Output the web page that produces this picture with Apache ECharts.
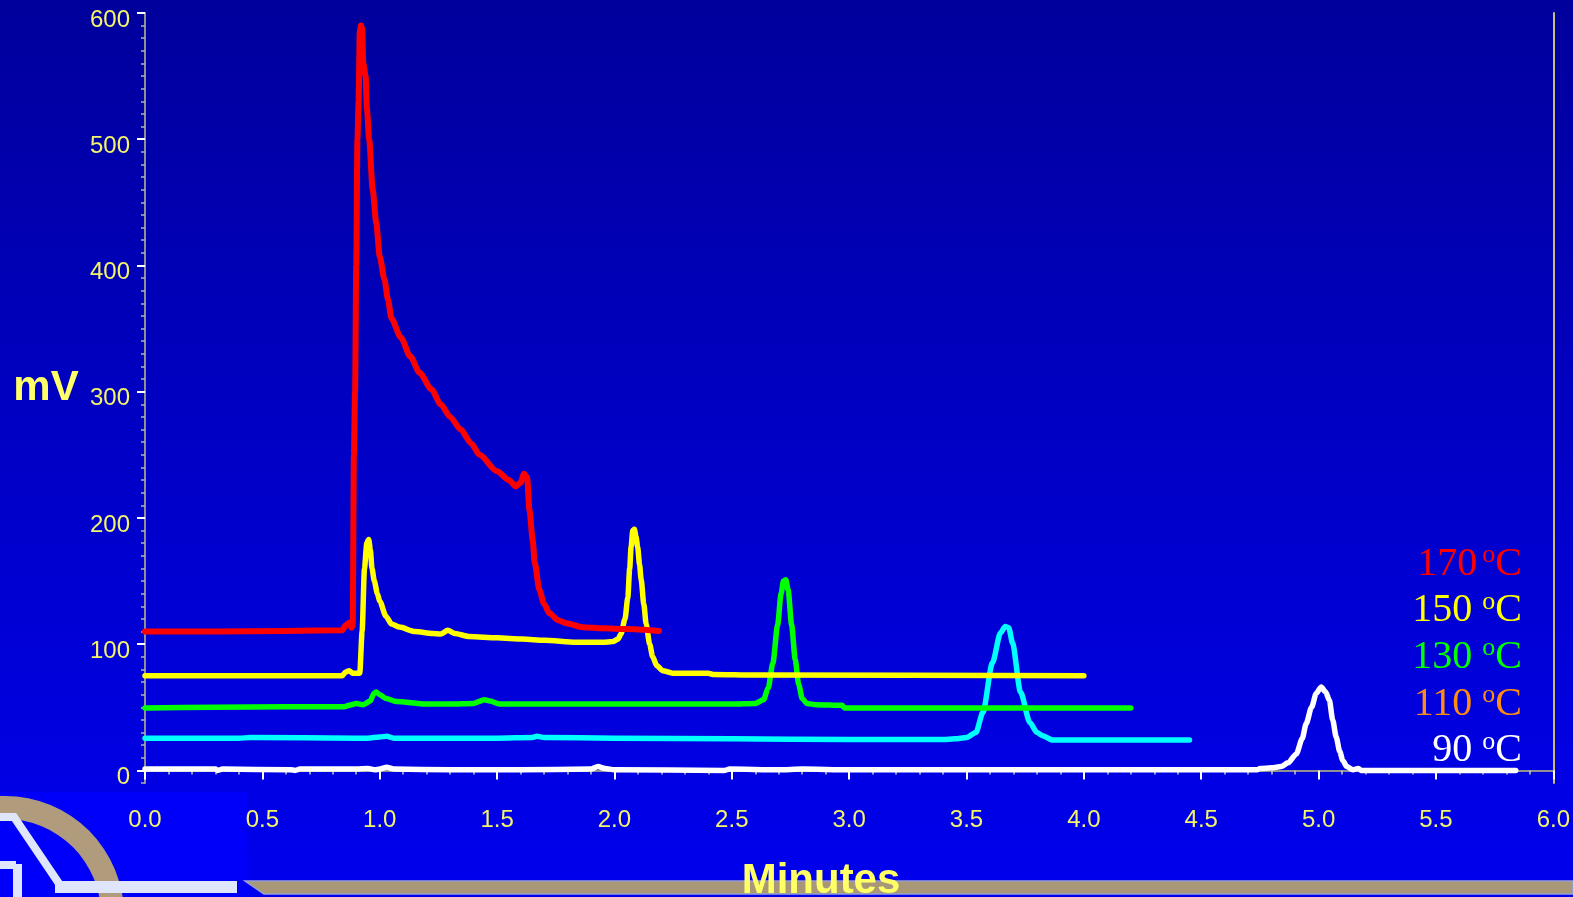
<!DOCTYPE html>
<html><head><meta charset="utf-8">
<script src="https://cdn.jsdelivr.net/npm/echarts@6/dist/echarts.min.js"></script>
<style>html,body{margin:0;padding:0;background:#0000c0;}#c{width:1573px;height:897px;}</style>
</head><body><div id="c"></div><script>
// ---- data (minutes, mV) ----
const red170 = [[0,110],[0.3,110],[0.6,110.5],[0.84,111],[0.855,115],[0.87,117],[0.88,113],[0.885,115],[0.89,250],[0.895,300],[0.9,400],[0.905,500],[0.91,530],[0.915,585],[0.92,590],[0.925,588],[0.93,560],[0.94,550],[0.945,525],[0.955,500],[0.97,460],[0.985,434],[1.0,407],[1.02,389],[1.035,373],[1.05,358],[1.09,343],[1.13,328],[1.17,315],[1.22,302],[1.26,290],[1.3,280],[1.345,270],[1.39,259],[1.425,250],[1.5,237],[1.55,230],[1.58,225],[1.6,228],[1.615,235],[1.628,232],[1.638,206],[1.652,182],[1.66,165],[1.68,143],[1.7,132],[1.723,124.5],[1.76,119],[1.794,116.6],[1.864,113.4],[1.95,112.5],[2.05,112],[2.19,110.5]];
const yellow150 = [[0,75],[0.84,75],[0.855,78],[0.87,79],[0.885,77],[0.915,77],[0.925,110],[0.935,160],[0.945,180],[0.953,183],[0.96,175],[0.967,160],[0.977,150],[0.99,140],[1.0,134],[1.027,122],[1.05,116],[1.084,113.5],[1.15,110],[1.226,108.5],[1.26,108],[1.29,111],[1.32,108.5],[1.382,106],[1.5,105],[1.609,104],[1.7,103],[1.837,101.5],[1.95,101.5],[1.993,102],[2.015,104],[2.028,108],[2.045,120],[2.057,137],[2.065,160],[2.071,177],[2.078,190],[2.085,191],[2.092,185],[2.099,177],[2.107,163],[2.114,151],[2.125,132],[2.135,116],[2.15,100],[2.163,90],[2.18,83],[2.206,79],[2.248,77],[2.4,77],[2.42,76],[2.6,75.5],[4.0,75]];
const green130 = [[0,49.5],[0.3,50],[0.6,50.5],[0.85,50.5],[0.88,52],[0.9,53],[0.93,52],[0.96,55],[0.975,61],[0.985,62],[1.0,60],[1.027,57],[1.07,54.5],[1.197,52.5],[1.3,52.5],[1.4,53],[1.446,56],[1.47,55],[1.51,52.5],[2.0,52.5],[2.5,52.5],[2.6,53],[2.635,56],[2.655,65],[2.675,85],[2.695,115],[2.71,140],[2.72,150],[2.73,151],[2.74,143],[2.755,115],[2.77,88],[2.785,68],[2.8,57],[2.82,53],[2.86,52],[2.97,51.5],[2.98,49.5],[4.2,49.5]];
const cyan110 = [[0,25.5],[0.4,25.5],[0.45,26],[0.9,25.5],[0.95,25.5],[1.0,26.5],[1.03,27],[1.06,25.5],[1.5,25.5],[1.65,26],[1.67,27],[1.7,26],[2.0,25.5],[2.5,25],[3.0,24.5],[3.4,24.5],[3.45,25],[3.5,26],[3.54,30],[3.57,46],[3.61,85],[3.645,109],[3.665,114],[3.68,113],[3.696,101],[3.73,62],[3.77,38],[3.8,30],[3.824,27.5],[3.867,24],[4.45,24]];
const white90 = [[0,1],[0.3,1],[0.31,0],[0.33,1],[0.62,0.5],[0.64,0],[0.66,1],[0.9,1],[0.95,1.5],[0.98,0.5],[1.0,1],[1.03,2.5],[1.06,1],[1.3,0.5],[1.6,0.5],[1.9,1],[1.93,3],[1.96,1.5],[2.0,0.5],[2.47,0],[2.49,1],[2.7,0.5],[2.8,1],[3.0,0.5],[4.0,0.5],[4.74,0.5],[4.75,1.5],[4.8,2],[4.84,3],[4.87,6],[4.905,13],[4.93,25],[4.947,37],[4.97,50],[4.99,61],[5.011,66],[5.03,62],[5.046,55.5],[5.06,40],[5.075,26.4],[5.09,15],[5.103,7.9],[5.12,3],[5.146,0.5],[5.17,1.5],[5.18,0],[5.84,0]];
const yMajorTicks = [0,100,200,300,400,500,600];
const legendNames = ['170','150 ','130 ','110 ','90 '];
const legendColors = ['#ff0000','#ffff00','#00ff00','#ff8c10','#ffffff'];

const yMinorTicks = [];
for (let v = -10; v <= 600; v += 10) if (v % 100 !== 0) yMinorTicks.push(v);

const YEL = '#f4f46a';
const SERIF = '"Liberation Serif","Times New Roman",serif';
const SANS = '"Liberation Sans",Arial,sans-serif';
const chart = echarts.init(document.getElementById('c'));

const legendGraphics = legendNames.map((n, i) => ({
  type: 'text', right: 51, top: 542 + i * 46.7, z: 50,
  style: {
    text: '{n|' + n + '}{s|o}{c|C}',
    fill: legendColors[i],
    rich: {
      n: {fontFamily: SERIF, fontSize: 40, fill: legendColors[i], lineHeight: 44, padding: [0, i === 0 ? 5 : 0, 0, 0]},
      s: {fontFamily: SERIF, fontSize: 26, fill: legendColors[i], verticalAlign: 'top', lineHeight: 40},
      c: {fontFamily: SERIF, fontSize: 40, fill: legendColors[i], lineHeight: 44}
    }
  }
}));

const lineSeries = (name, data, color, width, z) => ({
  name, type: 'line', data, showSymbol: false, symbol: 'none', z,
  smooth: 0.25, smoothMonotone: 'x',
  lineStyle: {color, width, join: 'round', cap: 'round'}
});

const option = {
  animation: false,
  backgroundColor: 'transparent',
  grid: {left: 145, right: 19, top: 13, bottom: 114, containLabel: false},
  xAxis: [{
    type: 'value', min: 0, max: 6, interval: 0.5, position: 'bottom',
    axisLine: {show: true, lineStyle: {color: '#a8a8a8', width: 2}},
    axisTick: {show: true, length: 9, lineStyle: {color: '#ffffff', width: 2}},
    minorTick: {show: true, splitNumber: 5, length: 4, lineStyle: {color: '#c8c8c8', width: 1.5}},
    splitLine: {show: false},
    axisLabel: {color: YEL, fontSize: 24, fontFamily: SANS, margin: 25,
      formatter: v => v.toFixed(1)}
  }, {
    type: 'value', min: 0, max: 6, position: 'top',
    axisLine: {show: true, lineStyle: {color: '#909090', width: 2}},
    axisTick: {show: false}, axisLabel: {show: false}, splitLine: {show: false}
  }],
  yAxis: [{
    type: 'value', min: -10, max: 600, position: 'left',
    axisLine: {show: true, lineStyle: {color: '#909090', width: 2}},
    axisTick: {show: true, customValues: yMinorTicks, length: 4, lineStyle: {color: '#b0b0b0', width: 1.5}},
    axisLabel: {show: false}, splitLine: {show: false}
  }, {
    type: 'value', min: -10, max: 600, position: 'left', offset: 0,
    axisLine: {show: false},
    axisTick: {show: true, customValues: yMajorTicks, length: 8, lineStyle: {color: '#ffffff', width: 2}},
    axisLabel: {show: true, customValues: yMajorTicks, color: YEL, fontSize: 24, fontFamily: SANS, margin: 15,
      verticalAlign: 'top', lineHeight: 14},
    splitLine: {show: false}
  }, {
    type: 'value', min: -10, max: 600, position: 'right',
    axisLine: {show: true, lineStyle: {color: '#c8bc80', width: 2}},
    axisTick: {show: false}, axisLabel: {show: false}, splitLine: {show: false}
  }],
  graphic: [
    {type: 'rect', z: -100, silent: true, shape: {x: 0, y: 0, width: 1573, height: 897},
      style: {fill: new echarts.graphic.LinearGradient(0, 0, 0, 1, [
        {offset: 0, color: '#00009c'}, {offset: 0.45, color: '#0000c2'},
        {offset: 0.88, color: '#0000e4'}, {offset: 1, color: '#0000ee'}])}},
    {type: 'rect', z: -90, silent: true, shape: {x: 0, y: 792, width: 248, height: 105}, style: {fill: '#0000fa'}},
    {type: 'ring', z: -80, silent: true, shape: {cx: 5, cy: 915, r: 119, r0: 96}, style: {fill: '#b09c7c'}},
    {type: 'polyline', z: -70, silent: true, shape: {points: [[0,817],[14,817],[60,885],[232,885]]},
      style: {stroke: '#dfe5fa', lineWidth: 8, fill: null, lineJoin: 'miter'}},
    {type: 'rect', z: -70, silent: true, shape: {x: 55, y: 881, width: 182, height: 12}, style: {fill: '#dfe5fa'}},
    {type: 'rect', z: -70, silent: true, shape: {x: 0, y: 861, width: 16, height: 8}, style: {fill: '#dfe5fa'}},
    {type: 'rect', z: -70, silent: true, shape: {x: 13, y: 864, width: 9, height: 33}, style: {fill: '#dfe5fa'}},
    {type: 'polygon', z: -70, silent: true, shape: {points: [[245,881],[1573,881],[1573,894],[264,894]]},
      style: {fill: '#a89878', stroke: '#9aa0d0', lineWidth: 1.5}},
    {type: 'text', z: 50, style: {text: 'mV', x: 46, y: 388, align: 'center', verticalAlign: 'middle',
      fill: '#ffff66', fontSize: 42, fontWeight: 'bold', fontFamily: SANS}},
    {type: 'text', z: 50, style: {text: 'Minutes', x: 821, y: 881, align: 'center', verticalAlign: 'middle',
      fill: '#ffff66', fontSize: 42, fontWeight: 'bold', fontFamily: SANS}}
  ].concat(legendGraphics),
  series: [
    lineSeries('90 °C', white90, '#ffffff', 5.5, 3),
    lineSeries('110 °C', cyan110, '#00ffff', 5.5, 4),
    lineSeries('130 °C', green130, '#00ff00', 5.5, 5),
    lineSeries('150 °C', yellow150, '#ffff00', 5.5, 6),
    lineSeries('170 °C', red170, '#ff0000', 6, 7)
  ]
};
chart.setOption(option);
</script></body></html>
